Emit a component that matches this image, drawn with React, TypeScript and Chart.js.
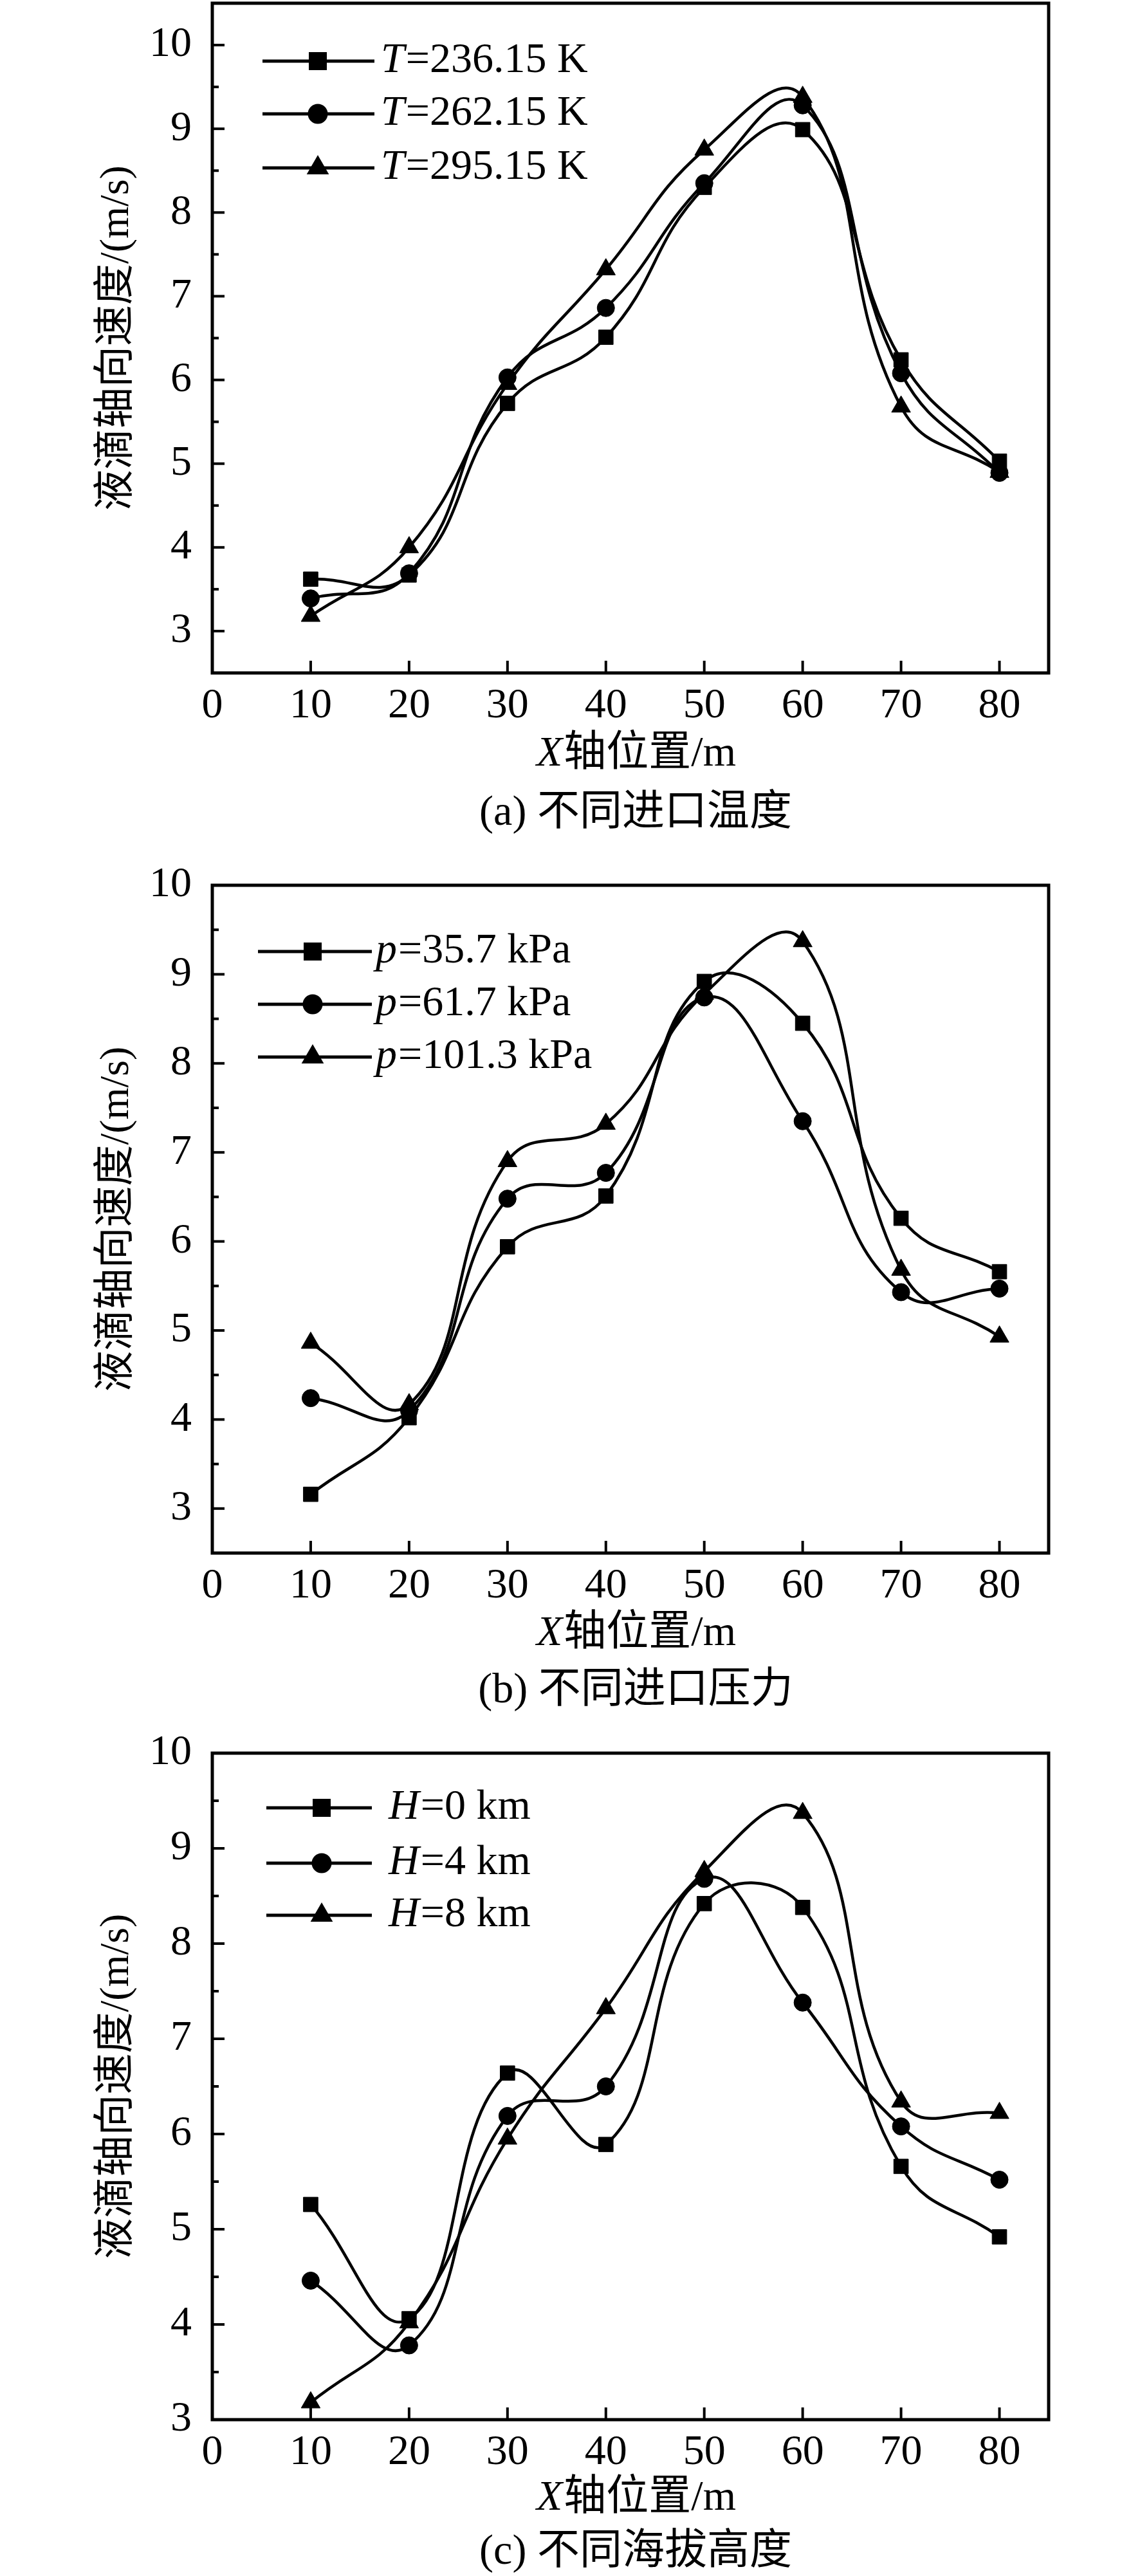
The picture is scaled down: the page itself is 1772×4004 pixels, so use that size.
import React, { useEffect, useRef } from 'react';
import { Chart, registerables } from 'chart.js';

Chart.register(...registerables);

// ---------- data ----------
const xPositions = [10, 20, 30, 40, 50, 60, 70, 80];
const xTickValues = [0, 10, 20, 30, 40, 50, 60, 70, 80];
const yTickValues = [3, 4, 5, 6, 7, 8, 9, 10];

// (a) different inlet temperature
const tempVar = ['T', 'T', 'T'];
const tempRest = ['=236.15 K', '=262.15 K', '=295.15 K'];
const temp236 = [3.62, 3.67, 5.72, 6.51, 8.30, 8.99, 6.24, 5.03];
const temp262 = [3.39, 3.69, 6.03, 6.86, 8.35, 9.28, 6.08, 4.89];
const temp295 = [3.18, 4.00, 5.95, 7.32, 8.75, 9.38, 5.68, 4.90];

// (b) different inlet pressure
const pressVar = ['p', 'p', 'p'];
const pressRest = ['=35.7 kPa', '=61.7 kPa', '=101.3 kPa'];
const press357 = [3.16, 4.02, 5.94, 6.51, 8.92, 8.45, 6.26, 5.66];
const press617 = [4.24, 4.10, 6.48, 6.77, 8.74, 7.35, 5.43, 5.47];
const press1013 = [4.86, 4.17, 6.90, 7.32, 8.78, 9.37, 5.68, 4.93];

// (c) different altitude
const altVar = ['H', 'H', 'H'];
const altRest = ['=0 km', '=4 km', '=8 km'];
const alt0 = [5.26, 4.06, 6.64, 5.89, 8.42, 8.38, 5.66, 4.92];
const alt4 = [4.46, 3.78, 6.19, 6.50, 8.68, 7.38, 6.08, 5.52];
const alt8 = [3.18, 4.02, 5.95, 7.32, 8.76, 9.37, 6.34, 6.22];

const yTitle = '液滴轴向速度/(m/s)';
const xTitleVar = 'X';
const xTitleRest = '轴位置/m';
const captions = ['(a) 不同进口温度', '(b) 不同进口压力', '(c) 不同海拔高度'];

// ---------- styles ----------
const FONT = "'Liberation Serif', 'Times New Roman', 'Noto Sans CJK SC', serif";
const pointStyles = ['rect', 'circle', 'triangle'];
const pointRadii = [16, 13.5, 17];
const TOP_PAD = 45;

type PanelCfg = {
  frameTop: number;
  frameH: number;
  bottomSpace: number;
  yMin: number;
  yMax: number;
  series: number[][];
  legVar: string[];
  legRest: string[];
  legRows: number[];
  legLine: [number, number];
  legMarker: number;
  legText: number;
  xTitleOff: number;
  captionOff: number;
  caption: string;
};

function drawMarker(ctx: CanvasRenderingContext2D, style: string, x: number, y: number) {
  ctx.beginPath();
  if (style === 'rect') {
    const s = 28;
    ctx.rect(x - s / 2, y - s / 2, s, s);
  } else if (style === 'circle') {
    ctx.arc(x, y, 15.5, 0, Math.PI * 2);
  } else {
    const r = 20;
    const h = r * Math.sin((2 * Math.PI) / 3);
    ctx.moveTo(x, y - r);
    ctx.lineTo(x + h, y + r * 0.5);
    ctx.lineTo(x - h, y + r * 0.5);
    ctx.closePath();
  }
  ctx.fill();
}

function drawMixed(ctx: CanvasRenderingContext2D, italicPart: string, rest: string, x: number, y: number, size: number, center: boolean) {
  ctx.font = `italic ${size}px ${FONT}`;
  const w1 = ctx.measureText(italicPart).width;
  ctx.font = `${size}px ${FONT}`;
  const w2 = ctx.measureText(rest).width;
  const sx = center ? x - (w1 + w2) / 2 : x;
  ctx.textAlign = 'left';
  ctx.textBaseline = 'middle';
  ctx.font = `italic ${size}px ${FONT}`;
  ctx.fillText(italicPart, sx, y);
  ctx.font = `${size}px ${FONT}`;
  ctx.fillText(rest, sx + w1 + 2, y);
}

function makeDecor(cfg: PanelCfg) {
  return {
    id: 'decor',
    afterDraw(chart: any) {
      const ctx: CanvasRenderingContext2D = chart.ctx;
      const a = chart.chartArea;
      const xs = chart.scales.x;
      const ys = chart.scales.y;
      ctx.save();
      ctx.strokeStyle = '#000';
      ctx.fillStyle = '#000';
      ctx.lineCap = 'butt';
      ctx.lineWidth = 4;
      const seg = (x1: number, y1: number, x2: number, y2: number) => {
        ctx.beginPath();
        ctx.moveTo(x1, y1);
        ctx.lineTo(x2, y2);
        ctx.stroke();
      };
      // y major ticks (inside)
      for (const v of yTickValues) {
        if (v <= ys.min || v >= ys.max) continue;
        const py = ys.getPixelForValue(v);
        seg(a.left, py, a.left + 19, py);
      }
      // y minor ticks
      for (let k = Math.ceil(ys.min * 2); k <= Math.floor(ys.max * 2); k++) {
        const v = k / 2;
        if (Number.isInteger(v) || v <= ys.min || v >= ys.max) continue;
        const py = ys.getPixelForValue(v);
        seg(a.left, py, a.left + 10, py);
      }
      // x ticks (inside)
      for (const v of xTickValues) {
        if (v <= xs.min || v >= xs.max) continue;
        const px = xs.getPixelForValue(v);
        seg(px, a.bottom, px, a.bottom - 19);
      }
      // frame
      ctx.lineWidth = 5;
      ctx.strokeRect(a.left, a.top, a.right - a.left, a.bottom - a.top);

      // legend
      cfg.legRows.forEach((row, i) => {
        const y = a.top + row;
        ctx.lineWidth = 5;
        seg(cfg.legLine[0], y, cfg.legLine[1], y);
        drawMarker(ctx, pointStyles[i], cfg.legMarker, y);
        drawMixed(ctx, cfg.legVar[i], cfg.legRest[i], cfg.legText, y, 66, false);
      });

      const cx = (a.left + a.right) / 2 + 8;
      // x title
      drawMixed(ctx, xTitleVar, xTitleRest, cx, a.bottom + cfg.xTitleOff, 66, true);
      // caption
      ctx.font = `66px ${FONT}`;
      ctx.textAlign = 'center';
      ctx.textBaseline = 'middle';
      ctx.fillText(cfg.caption, cx, a.bottom + cfg.captionOff);
      // y title
      ctx.save();
      ctx.translate(182, (a.top + a.bottom) / 2);
      ctx.rotate(-Math.PI / 2);
      ctx.font = `64px ${FONT}`;
      ctx.textAlign = 'center';
      ctx.textBaseline = 'middle';
      ctx.fillText(yTitle, 0, 0);
      ctx.restore();
      ctx.restore();
    },
  };
}

function Panel({ cfg }: { cfg: PanelCfg }) {
  const ref = useRef<HTMLCanvasElement | null>(null);
  const canvasH = TOP_PAD + cfg.frameH + cfg.bottomSpace;
  useEffect(() => {
    if (!ref.current) return;
    const chart = new Chart(ref.current, {
      type: 'line',
      data: {
        datasets: cfg.series.map((vals, i) => ({
          data: xPositions.map((x, j) => ({ x, y: vals[j] })),
          borderColor: '#000',
          backgroundColor: '#000',
          borderWidth: 4.5,
          pointStyle: pointStyles[i] as any,
          pointRadius: pointRadii[i],
          pointBorderWidth: 1,
          pointBackgroundColor: '#000',
          pointBorderColor: '#000',
          tension: 0.45,
          fill: false,
        })),
      },
      options: {
        animation: false,
        responsive: false,
        devicePixelRatio: 1,
        layout: { padding: { left: 0, right: 142, top: TOP_PAD, bottom: 0 } },
        plugins: { legend: { display: false }, tooltip: { enabled: false } },
        scales: {
          x: {
            type: 'linear',
            min: 0,
            max: 85,
            grid: { display: false, drawTicks: false },
            border: { display: false },
            afterBuildTicks: (s: any) => {
              s.ticks = xTickValues.map((v) => ({ value: v }));
            },
            afterFit: (s: any) => {
              s.height = cfg.bottomSpace;
              s.paddingLeft = 0;
              s.paddingRight = 0;
            },
            ticks: {
              font: { family: FONT, size: 66 },
              color: '#000',
              padding: 12,
              maxRotation: 0,
              autoSkip: false,
            },
          },
          y: {
            type: 'linear',
            min: cfg.yMin,
            max: cfg.yMax,
            grid: { display: false, drawTicks: false },
            border: { display: false },
            afterBuildTicks: (s: any) => {
              s.ticks = yTickValues.map((v) => ({ value: v }));
            },
            afterFit: (s: any) => {
              s.width = 330;
              s.paddingTop = 0;
              s.paddingBottom = 0;
            },
            ticks: {
              font: { family: FONT, size: 66 },
              color: '#000',
              padding: 32,
              autoSkip: false,
            },
          },
        },
      } as any,
      plugins: [makeDecor(cfg)],
    });
    return () => chart.destroy();
  }, [cfg]);
  return (
    <canvas
      ref={ref}
      width={1772}
      height={canvasH}
      style={{ position: 'absolute', left: 0, top: cfg.frameTop - TOP_PAD, width: 1772, height: canvasH }}
    />
  );
}

const panels: PanelCfg[] = [
  {
    frameTop: 5, frameH: 1041, bottomSpace: 290, yMin: 2.5, yMax: 10.5,
    series: [temp236, temp262, temp295], legVar: tempVar, legRest: tempRest,
    legRows: [90, 172, 256], legLine: [408, 582], legMarker: 494, legText: 592,
    xTitleOff: 127, captionOff: 219, caption: captions[0],
  },
  {
    frameTop: 1376, frameH: 1038, bottomSpace: 290, yMin: 2.5, yMax: 10,
    series: [press357, press617, press1013], legVar: pressVar, legRest: pressRest,
    legRows: [103, 185, 267], legLine: [401, 578], legMarker: 486, legText: 584,
    xTitleOff: 126, captionOff: 215, caption: captions[1],
  },
  {
    frameTop: 2725, frameH: 1036, bottomSpace: 243, yMin: 3, yMax: 10,
    series: [alt0, alt4, alt8], legVar: altVar, legRest: altRest,
    legRows: [85, 171, 252], legLine: [414, 578], legMarker: 500, legText: 604,
    xTitleOff: 123, captionOff: 207, caption: captions[2],
  },
];

export default function App() {
  return (
    <div style={{ position: 'absolute', left: 0, top: 0, width: 1772, height: 4004, overflow: 'hidden', background: '#fff' }}>
      {panels.map((p, i) => (
        <Panel key={i} cfg={p} />
      ))}
    </div>
  );
}
